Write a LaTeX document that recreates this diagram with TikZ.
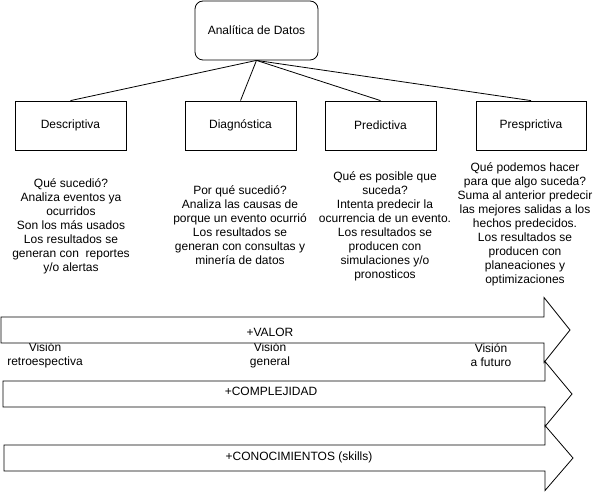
\documentclass[tikz,border=0pt]{standalone}
\usepackage{fontspec}
\setmainfont{Liberation Sans}
\usetikzlibrary{calc}
\def\flecha(#1:#2:#3:#4){\draw[fill=white] (#1,#2-13) -- (#3,#2-13) -- (#3,#2-32.5) -- (#4,#2) -- (#3,#2+32.5) -- (#3,#2+13) -- (#1,#2+13) -- cycle;}

\begin{document}
\begin{tikzpicture}[x=1pt,y=-1pt,line width=0.8pt,
	every node/.style={font=\fontsize{12}{14}\selectfont, align=center, inner sep=0pt},
	caja/.style={draw, minimum width=111pt, minimum height=49pt}]
		\useasboundingbox (0,0) rectangle (604,502);
		%%%%% START %%%%%
		\node[draw, rounded corners=8pt, minimum width=123pt, minimum height=59pt] (datos) at (256.5, 30.5) {Anal\'itica de Datos};
		
		\node[caja] (desc) at (70.5, 125.5) {Descriptiva};
		\node[caja] (diag) at (240.5, 125.5) {Diagn\'ostica};
		\node[caja] (pred) at (380.5, 125.5) {Predictiva};
		\node[caja, minimum width=110pt] (pres) at (531, 125.5) {Presprictiva};
		
		\draw (datos.south) -- (desc.north);
		\draw (datos.south) -- (diag.north);
		\draw (datos.south) -- (pred.north);
		\draw (datos.south) -- (pres.north);
		
		\node (tdesc) at (71, 226) {Qu\'e sucedi\'o?\\Analiza eventos ya\\ocurridos\\Son los m\'as usados\\Los resultados se\\generan con\ \ reportes\\y/o alertas};
		\node (tdiag) at (240, 225) {Por qu\'e sucedi\'o?\\Analiza las causas de\\porque un evento ocurri\'o\\Los resultados se\\generan con consultas y\\miner\'ia de datos};
		\node (tpred) at (385, 226.5) {Qu\'e es posible que\\suceda?\\Intenta predecir la\\ocurrencia de un evento.\\Los resultados se\\producen con\\simulaciones y/o\\pronosticos};
		\node (tpres) at (525, 224.5) {Qu\'e podemos hacer\\para que algo suceda?\\Suma al anterior predecir\\las mejores salidas a los\\hechos predecidos.\\Los resultados se\\producen con\\planeaciones y\\optimizaciones};
		
		\node (vret) at (45, 355) {Visi\'on\\retroespectiva};
		\node (vgen) at (270, 355) {Visi\'on\\general};
		\node (vfut) at (491, 355) {Visi\'on\\a futuro};
		
		\flecha(4:458:545:573);
		\flecha(3:394:545:572);
		\flecha(1:330:544:570);
		
		\node (valor) at (270, 332) {+VALOR};
		\node (compl) at (271, 391) {+COMPLEJIDAD};
		\node (conoc) at (299, 457) {+CONOCIMIENTOS (skills)};
		%%%%% END %%%%%
	\end{tikzpicture}
\end{document}
